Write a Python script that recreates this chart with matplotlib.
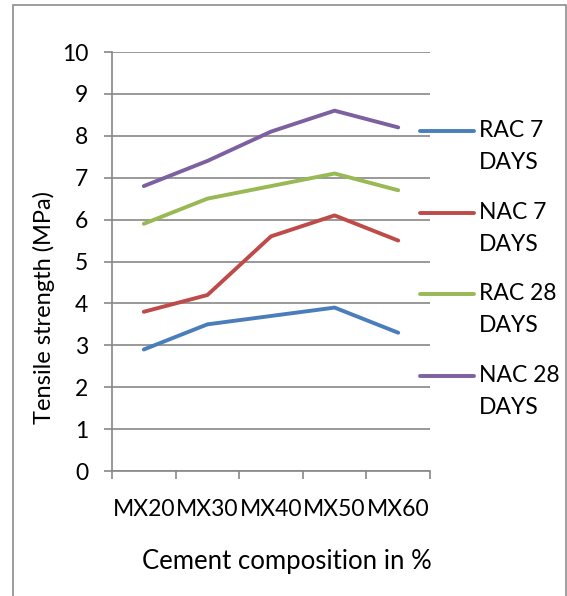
import matplotlib.pyplot as plt
from matplotlib.lines import Line2D
from matplotlib.patches import Rectangle

# Werte der Messreihen
mixes = ["MX20", "MX30", "MX40", "MX50", "MX60"]
rac_7 = [2.9, 3.5, 3.7, 3.9, 3.3]
nac_7 = [3.8, 4.2, 5.6, 6.1, 5.5]
rac_28 = [5.9, 6.5, 6.8, 7.1, 6.7]
nac_28 = [6.8, 7.4, 8.1, 8.6, 8.2]

series = [
    ("RAC 7\nDAYS", rac_7, "#4a7ebb"),
    ("NAC 7\nDAYS", nac_7, "#be4b48"),
    ("RAC 28\nDAYS", rac_28, "#98b954"),
    ("NAC 28\nDAYS", nac_28, "#7d60a0"),
]

plt.rcParams["font.family"] = ["Lato", "DejaVu Sans"]
W, H = 567, 596
fs = 16.5
fig = plt.figure(figsize=(W / 100, H / 100), dpi=100)

# Rahmen um das Diagramm
fig.add_artist(Rectangle((13 / W, -0.05), (566 - 13) / W, 1 - 5 / H + 0.05,
                         transform=fig.transFigure, fill=False,
                         edgecolor="#8c8c8c", lw=1.2))

ax = fig.add_axes([112 / W, 1 - 471 / H, (430 - 112) / W, (471 - 52) / H])
x = list(range(len(mixes)))
for name, vals, col in series:
    ax.plot(x, vals, color=col, lw=2.8, solid_capstyle="round",
            solid_joinstyle="round", zorder=3)

grid_col = "#878787"
ax.set_xlim(-0.5, len(mixes) - 0.5)
ax.set_ylim(0, 10)
ax.set_yticks(range(0, 11))
ax.yaxis.grid(True, color=grid_col, lw=1.2)
ax.set_xticks([i - 0.5 for i in range(len(mixes) + 1)])
ax.set_xticklabels([])
ax.set_xticks(x, minor=True)
ax.set_xticklabels(mixes, minor=True, fontsize=fs)
ax.tick_params(axis="x", which="minor", length=0, pad=20)
ax.tick_params(axis="both", which="major", length=6, width=1.2,
               color=grid_col, labelsize=fs, direction="out")
ax.tick_params(axis="y", pad=11)
for s in ["top", "right"]:
    ax.spines[s].set_visible(False)
for s in ["left", "bottom"]:
    ax.spines[s].set_color(grid_col)
    ax.spines[s].set_linewidth(1.2)

fig.text(287 / W, 1 - 562 / H, "Cement composition in %", fontsize=18.5,
         ha="center", va="center")
fig.text(44 / W, 1 - 308 / H, "Tensile strength (MPa)", fontsize=17,
         ha="center", va="center", rotation=90)

# Legende rechts
for i, (name, vals, col) in enumerate(series):
    y = 131 + i * 81.7
    fig.add_artist(Line2D([420 / W, 474 / W], [1 - y / H, 1 - y / H],
                          color=col, lw=2.8, solid_capstyle="round",
                          transform=fig.transFigure))
    fig.text(479 / W, 1 - (y - 11) / H, name, fontsize=fs, ha="left",
             va="top", linespacing=1.65)

fig.savefig("out.png", dpi=100)
